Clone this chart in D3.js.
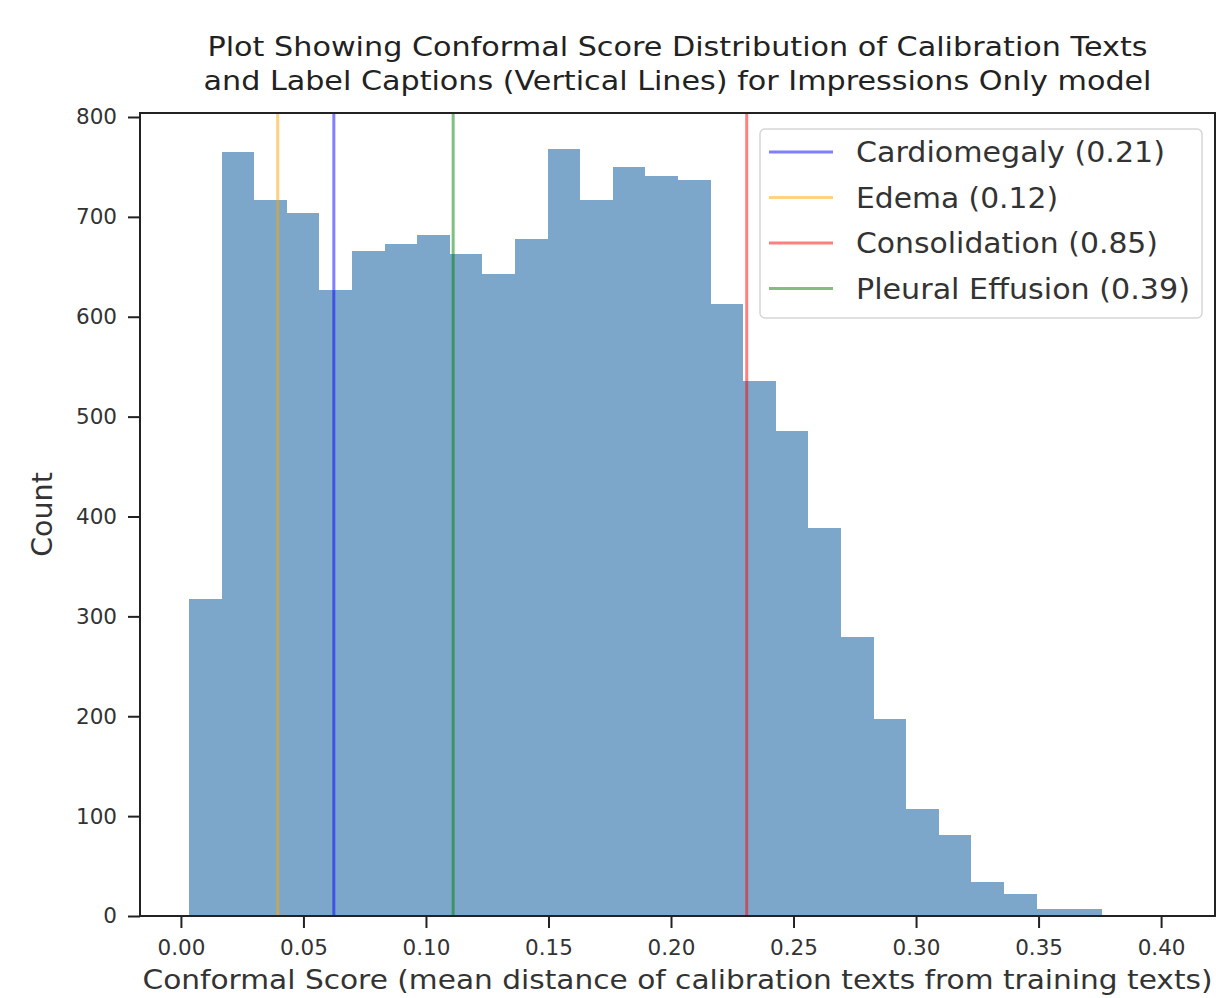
<!DOCTYPE html>
<html>
<head>
<meta charset="utf-8">
<script src="https://cdn.jsdelivr.net/npm/d3@7"></script>
<style>
  body { margin: 0; background: #fff; }
  svg { display: block; font-family: "DejaVu Sans", sans-serif; }
</style>
</head>
<body>
<svg id="chart" width="1216" height="998"></svg>
<script>
// Histograma: bordes de los bins y cuentas
const binStart = 0.0033;
const binEnd = 0.3758;
const counts = [317, 765, 717, 704, 627, 666, 673, 682, 663, 643, 678, 768, 717, 750,
                741, 737, 613, 536, 486, 388, 279, 197, 107, 81, 34, 22, 7, 7];

// Líneas verticales (captions) y su leyenda
const captionNames = ["Cardiomegaly (0.21)", "Edema (0.12)", "Consolidation (0.85)", "Pleural Effusion (0.39)"];
const captionScores = [0.0624, 0.0395, 0.2309, 0.1111];
const captionColors = ["blue", "orange", "red", "green"];

const xTicks = [0.00, 0.05, 0.10, 0.15, 0.20, 0.25, 0.30, 0.35, 0.40];
const yTicks = [0, 100, 200, 300, 400, 500, 600, 700, 800];

const titleLines = ["Plot Showing Conformal Score Distribution of Calibration Texts",
                    "and Label Captions (Vertical Lines) for Impressions Only model"];
const xLabel = "Conformal Score (mean distance of calibration texts from training texts)";
const yLabel = "Count";

const svg = d3.select("#chart");
const plotLeft = 140, plotRight = 1215, plotTop = 113, plotBottom = 916;

const x = d3.scaleLinear().domain([-0.0167, 0.422]).range([plotLeft, plotRight]);
const y = d3.scaleLinear().domain([0, 804]).range([plotBottom, plotTop]);

// bins equiespaciados como en un hist de matplotlib
const binW = (binEnd - binStart) / counts.length;
const bins = counts.map((c, i) => ({ x0: binStart + i * binW, x1: binStart + (i + 1) * binW, n: c }));

svg.append("g")
  .attr("shape-rendering", "crispEdges")
  .selectAll("rect")
  .data(bins)
  .join("rect")
    .attr("x", d => Math.round(x(d.x0)))
    .attr("width", d => Math.round(x(d.x1)) - Math.round(x(d.x0)))
    .attr("y", d => y(d.n))
    .attr("height", d => y(0) - y(d.n))
    .attr("fill", "steelblue")
    .attr("fill-opacity", 0.7);

// axvline
svg.append("g")
  .selectAll("line")
  .data(captionScores)
  .join("line")
    .attr("x1", d => x(d)).attr("x2", d => x(d))
    .attr("y1", plotTop).attr("y2", plotBottom)
    .attr("stroke", (d, i) => captionColors[i])
    .attr("stroke-opacity", 0.5)
    .attr("stroke-width", 3);

// ejes
const xAxis = svg.append("g")
  .attr("transform", `translate(0,${plotBottom})`)
  .call(d3.axisBottom(x).tickValues(xTicks).tickFormat(d3.format(".2f")).tickSize(12).tickPadding(12));
const yAxis = svg.append("g")
  .attr("transform", `translate(${plotLeft},0)`)
  .call(d3.axisLeft(y).tickValues(yTicks).tickSize(12).tickPadding(11));

[xAxis, yAxis].forEach(g => {
  g.select(".domain").remove();
  g.selectAll(".tick line").attr("stroke", "#222").attr("stroke-width", 2);
  g.selectAll(".tick text")
    .attr("fill", "#333")
    .style("font-size", "21.5px")
    .style("font-family", "DejaVu Sans, sans-serif");
});

// marco
svg.append("rect")
  .attr("x", plotLeft).attr("y", plotTop)
  .attr("width", plotRight - plotLeft).attr("height", plotBottom - plotTop)
  .attr("fill", "none")
  .attr("stroke", "#222")
  .attr("stroke-width", 2);

// título
const titleWidths = [940, 948];
svg.append("g")
  .selectAll("text")
  .data(titleLines)
  .join("text")
    .attr("x", (plotLeft + plotRight) / 2)
    .attr("y", (d, i) => 56 + i * 34)
    .attr("text-anchor", "middle")
    .attr("fill", "#222")
    .attr("font-size", 26)
    .attr("textLength", (d, i) => titleWidths[i])
    .attr("lengthAdjust", "spacingAndGlyphs")
    .text(d => d);

// etiquetas de ejes
svg.append("text")
  .attr("x", (plotLeft + plotRight) / 2)
  .attr("y", 989)
  .attr("text-anchor", "middle")
  .attr("fill", "#333")
  .attr("font-size", 27)
  .attr("textLength", 1070)
  .attr("lengthAdjust", "spacingAndGlyphs")
  .text(xLabel);

svg.append("text")
  .attr("transform", `translate(52,${(plotTop + plotBottom) / 2}) rotate(-90)`)
  .attr("text-anchor", "middle")
  .attr("fill", "#333")
  .attr("font-size", 28.5)
  .text(yLabel);

// leyenda
const legend = svg.append("g");
legend.append("rect")
  .attr("x", 760).attr("y", 129)
  .attr("width", 442).attr("height", 189)
  .attr("rx", 5)
  .attr("fill", "#fff").attr("fill-opacity", 0.8)
  .attr("stroke", "#d6d6d6").attr("stroke-width", 1.5);

const rowY = i => 152 + i * 45.5;
legend.selectAll("line")
  .data(captionNames)
  .join("line")
    .attr("x1", 769).attr("x2", 833)
    .attr("y1", (d, i) => rowY(i)).attr("y2", (d, i) => rowY(i))
    .attr("stroke", (d, i) => captionColors[i])
    .attr("stroke-opacity", 0.5)
    .attr("stroke-width", 3);

const legendWidths = [309, 202, 302, 334];
legend.selectAll("text")
  .data(captionNames)
  .join("text")
    .attr("x", 856)
    .attr("y", (d, i) => rowY(i))
    .attr("dy", "0.36em")
    .attr("fill", "#333")
    .attr("font-size", 28)
    .attr("textLength", (d, i) => legendWidths[i])
    .attr("lengthAdjust", "spacingAndGlyphs")
    .text(d => d);
</script>
</body>
</html>
